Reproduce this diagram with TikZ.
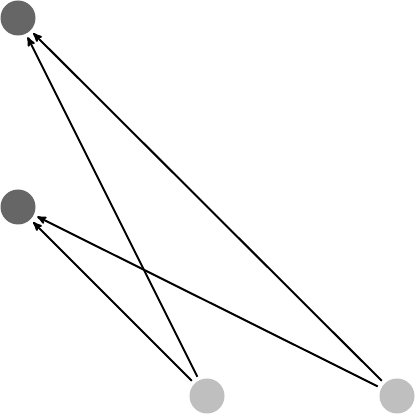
\documentclass[tikz,border=0pt]{standalone}
\usepackage{tikz}
\usetikzlibrary{arrows}

\tikzset{
  darkdot/.style={circle,fill=black!60,minimum size=35pt,inner sep=0pt,outer sep=4pt},
  lightdot/.style={circle,fill=black!25,minimum size=35pt,inner sep=0pt,outer sep=4pt},
  link/.style={-stealth',line width=2pt,black}
}

\begin{document}
\begin{tikzpicture}[x=1pt,y=1pt]
\useasboundingbox (0,0) rectangle (415,415);
\node[darkdot] (t1) at (18,397) {};
\node[darkdot] (t2) at (18,208) {};
\node[lightdot] (s1) at (207,19) {};
\node[lightdot] (s2) at (397,19) {};
\draw[link] (s1) -- (t1);
\draw[link] (s2) -- (t1);
\draw[link] (s1) -- (t2);
\draw[link] (s2) -- (t2);
\end{tikzpicture}
\end{document}
